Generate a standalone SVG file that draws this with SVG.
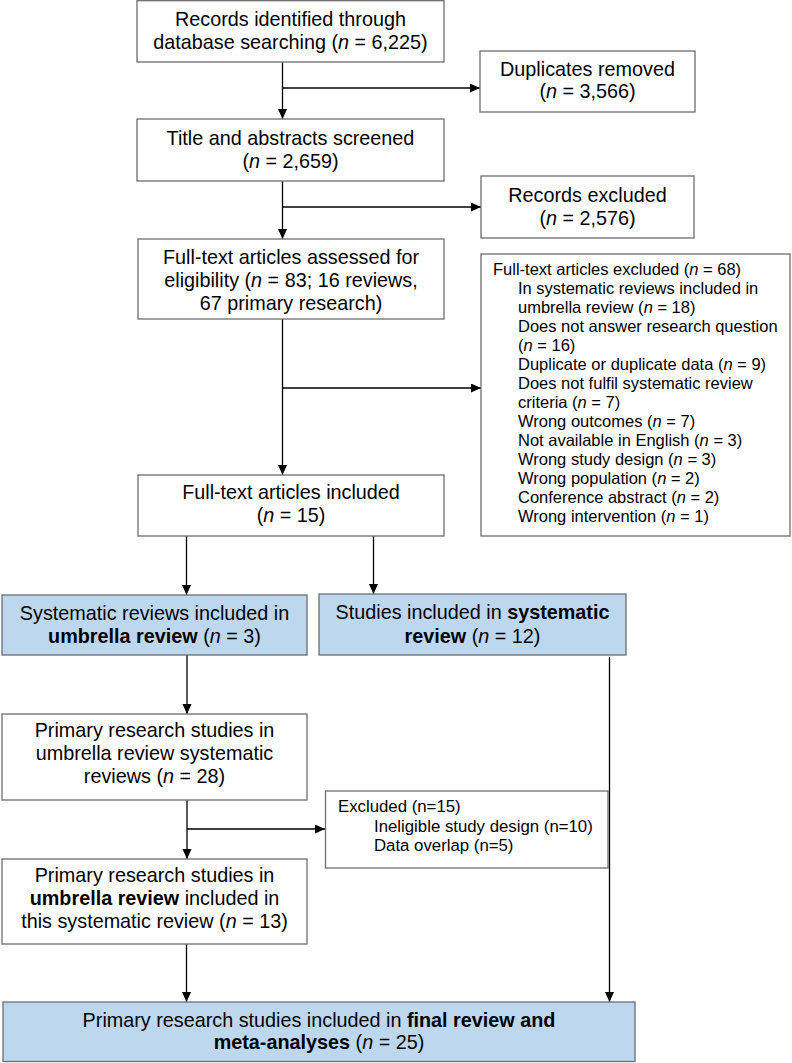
<svg xmlns="http://www.w3.org/2000/svg" width="792" height="1063" viewBox="0 0 792 1063">
<style>
.box{fill:#fff;stroke:#6e6e6e;stroke-width:1.3}
.blue{fill:#bdd7ee;stroke:#6e6e6e;stroke-width:1.3}
.t{font-family:"Liberation Sans",Arial,sans-serif;font-size:19.8px;fill:#000;text-anchor:middle}
.s{font-family:"Liberation Sans",Arial,sans-serif;font-size:16.5px;fill:#000}
.x{font-family:"Liberation Sans",Arial,sans-serif;font-size:16.8px;fill:#000}
.i{font-style:italic}
.b{font-weight:bold}
.c{fill:none;stroke:#000;stroke-width:1.3}
</style>
<defs>
<marker id="ah" markerUnits="userSpaceOnUse" markerWidth="11" markerHeight="10" refX="10" refY="4.5" orient="auto">
<path d="M0,0 L10,4.5 L0,9 z" fill="#000"/>
</marker>
</defs>
<g id="connectors">
<path class="c" d="M282.5,62 V119" marker-end="url(#ah)"/>
<path class="c" d="M282.5,88 H480" marker-end="url(#ah)"/>
<path class="c" d="M282.5,181 V239" marker-end="url(#ah)"/>
<path class="c" d="M282.5,207 H481" marker-end="url(#ah)"/>
<path class="c" d="M282.5,319 V475" marker-end="url(#ah)"/>
<path class="c" d="M282.5,388 H481" marker-end="url(#ah)"/>
<path class="c" d="M186.5,536 V595" marker-end="url(#ah)"/>
<path class="c" d="M373.5,536 V594" marker-end="url(#ah)"/>
<path class="c" d="M187,655 V714" marker-end="url(#ah)"/>
<path class="c" d="M187,800 V859" marker-end="url(#ah)"/>
<path class="c" d="M187,829 H325" marker-end="url(#ah)"/>
<path class="c" d="M186.5,944 V1002" marker-end="url(#ah)"/>
<path class="c" d="M609.5,657 V1002" marker-end="url(#ah)"/>
</g>
<g id="n1">
<rect class="box" x="137" y="0.7" width="307" height="61.3"/>
<text class="t" x="290.5" y="26">Records identified through</text>
<text class="t" x="290.5" y="49">database searching (<tspan class="i">n</tspan> = 6,225)</text>
</g>
<g id="n2">
<rect class="box" x="480" y="51" width="215" height="61"/>
<text class="t" x="587.5" y="76">Duplicates removed</text>
<text class="t" x="587.5" y="98">(<tspan class="i">n</tspan> = 3,566)</text>
</g>
<g id="n3">
<rect class="box" x="137" y="119" width="307" height="62"/>
<text class="t" x="290.5" y="145">Title and abstracts screened</text>
<text class="t" x="290.5" y="168">(<tspan class="i">n</tspan> = 2,659)</text>
</g>
<g id="n4">
<rect class="box" x="481" y="176" width="213" height="62"/>
<text class="t" x="587.5" y="202">Records excluded</text>
<text class="t" x="587.5" y="225">(<tspan class="i">n</tspan> = 2,576)</text>
</g>
<g id="n5">
<rect class="box" x="138" y="239" width="306" height="80"/>
<text class="t" x="291" y="264">Full-text articles assessed for</text>
<text class="t" x="291" y="287">eligibility (<tspan class="i">n</tspan> = 83; 16 reviews,</text>
<text class="t" x="291" y="310">67 primary research)</text>
</g>
<g id="n6">
<rect class="box" x="481" y="254" width="309" height="282"/>
<text class="s" x="493" y="275">Full-text articles excluded (<tspan class="i">n</tspan> = 68)</text>
<text class="s" x="518" y="294">In systematic reviews included in</text>
<text class="s" x="518" y="313">umbrella review (<tspan class="i">n</tspan> = 18)</text>
<text class="s" x="518" y="332">Does not answer research question</text>
<text class="s" x="518" y="351">(<tspan class="i">n</tspan> = 16)</text>
<text class="s" x="518" y="370">Duplicate or duplicate data (<tspan class="i">n</tspan> = 9)</text>
<text class="s" x="518" y="389">Does not fulfil systematic review</text>
<text class="s" x="518" y="408">criteria (<tspan class="i">n</tspan> = 7)</text>
<text class="s" x="518" y="427">Wrong outcomes (<tspan class="i">n</tspan> = 7)</text>
<text class="s" x="518" y="446">Not available in English (<tspan class="i">n</tspan> = 3)</text>
<text class="s" x="518" y="465">Wrong study design (<tspan class="i">n</tspan> = 3)</text>
<text class="s" x="518" y="484">Wrong population (<tspan class="i">n</tspan> = 2)</text>
<text class="s" x="518" y="503">Conference abstract (<tspan class="i">n</tspan> = 2)</text>
<text class="s" x="518" y="522">Wrong intervention (<tspan class="i">n</tspan> = 1)</text>
</g>
<g id="n7">
<rect class="box" x="138" y="475" width="306" height="61"/>
<text class="t" x="291" y="499">Full-text articles included</text>
<text class="t" x="291" y="522">(<tspan class="i">n</tspan> = 15)</text>
</g>
<g id="n8">
<rect class="blue" x="2" y="595" width="305" height="60"/>
<text class="t" x="154.5" y="620">Systematic reviews included in</text>
<text class="t" x="154.5" y="643"><tspan class="b">umbrella review</tspan> (<tspan class="i">n</tspan> = 3)</text>
</g>
<g id="n9">
<rect class="blue" x="319" y="594" width="307" height="61"/>
<text class="t" x="472.5" y="619">Studies included in <tspan class="b">systematic</tspan></text>
<text class="t" x="472.5" y="643"><tspan class="b">review</tspan> (<tspan class="i">n</tspan> = 12)</text>
</g>
<g id="n10">
<rect class="box" x="2" y="714" width="305" height="86"/>
<text class="t" x="154.5" y="737">Primary research studies in</text>
<text class="t" x="154.5" y="760">umbrella review systematic</text>
<text class="t" x="154.5" y="783">reviews (<tspan class="i">n</tspan> = 28)</text>
</g>
<g id="n11">
<rect class="box" x="325.5" y="791" width="282.5" height="77"/>
<text class="x" x="338" y="812">Excluded (n=15)</text>
<text class="x" x="374" y="832">Ineligible study design (n=10)</text>
<text class="x" x="374" y="851">Data overlap (n=5)</text>
</g>
<g id="n12">
<rect class="box" x="2" y="859" width="305" height="85"/>
<text class="t" x="154.5" y="882">Primary research studies in</text>
<text class="t" x="154.5" y="905"><tspan class="b">umbrella review</tspan> included in</text>
<text class="t" x="154.5" y="928">this systematic review (<tspan class="i">n</tspan> = 13)</text>
</g>
<g id="n13">
<rect class="blue" x="3" y="1002" width="632" height="59.5"/>
<text class="t" x="319" y="1027">Primary research studies included in <tspan class="b">final review and</tspan></text>
<text class="t" x="319" y="1049"><tspan class="b">meta-analyses</tspan> (<tspan class="i">n</tspan> = 25)</text>
</g>
</svg>
